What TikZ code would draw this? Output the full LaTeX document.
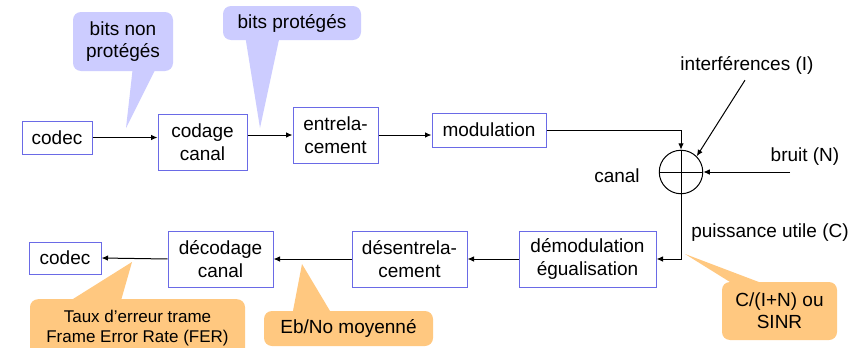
\documentclass[tikz,border=0pt]{standalone}
\usepackage{fontspec}
\setmainfont{Liberation Sans}
\usetikzlibrary{arrows.meta,backgrounds}

\definecolor{boxblue}{HTML}{6A6AE6}
\definecolor{lavender}{HTML}{CCCCFF}
\definecolor{apricot}{HTML}{FFC880}

\tikzset{
  blk/.style={draw=boxblue, line width=1pt, fill=white, align=center,
    inner sep=0pt, font=\fontsize{19}{22.5}\selectfont},
  lbl/.style={inner sep=0pt, align=center, font=\fontsize{19}{22}\selectfont},
  arr/.style={line width=1pt, -{Latex[length=6.5pt,width=5.5pt]}},
  bubble/.style={rounded corners=8pt, inner sep=0pt, align=center,
    font=\fontsize{19}{22}\selectfont},
  blue bubble/.style={bubble, fill=lavender},
  orange bubble/.style={bubble, fill=apricot},
}

\begin{document}
\begin{tikzpicture}[x=1pt, y=-1pt]
\clip (0,0) rectangle (868,348);
\fill[white] (0,0) rectangle (868,348);

% transmission chain
\node[blk, minimum width=70pt, minimum height=33pt] (codecA) at (57,137.5) {codec};
\node[blk, minimum width=89pt, minimum height=56pt] (codage) at (202.5,142) {codage\\canal};
\node[blk, minimum width=85pt, minimum height=56pt] (entrel) at (335.5,135) {entrela-\\cement};
\node[blk, minimum width=114pt, minimum height=34pt] (modul) at (489,130) {modulation};

% channel adder
\node[draw, circle, line width=1pt, minimum size=43.5pt, inner sep=0pt] (canal) at (681,172) {};
\draw[line width=1pt] (canal.north) -- (canal.south) (canal.west) -- (canal.east);
\node[lbl] (canallbl) at (617,176) {canal};
\node[lbl] (interf) at (747,65) {interférences (I)};
\node[lbl] (bruit) at (805,157) {bruit (N)};
\coordinate (bruitsrc) at (790,172);
\node[lbl] (puiss) at (770,233) {puissance utile (C)};

% reception chain
\node[blk, minimum width=137pt, minimum height=56pt] (demod) at (587.5,259) {démodulation\\égualisation};
\node[blk, minimum width=115pt, minimum height=56pt] (desent) at (409.5,259) {désentrela-\\cement};
\node[blk, minimum width=105pt, minimum height=56pt] (decod) at (220.5,259) {décodage\\canal};
\node[blk, minimum width=72pt, minimum height=32pt] (codecB) at (65,258) {codec};

% connectors
\draw[arr] (codecA.east) -- (codecA.east -| codage.west);
\draw[arr] (codage.east |- entrel) -- (entrel.west);
\draw[arr] (entrel.east) -- (entrel.east -| modul.west);
\draw[arr] (modul.east) -| (canal.north);
\draw[arr] (interf.south) ++(-2,6) -- (canal.north east);
\draw[arr] (bruitsrc) -- (canal.east);
\draw[arr] (canal.south) |- (demod.east);
\draw[arr] (demod.west) -- (desent.east);
\draw[arr] (desent.west) -- (decod.east);
\draw[arr] (decod.west) -- (codecB.east);

% callouts
\fill[lavender] (126,128) -- (133,66) -- (157,66) -- cycle;
\node[blue bubble, minimum width=100pt, minimum height=59pt] (nonprot) at (123,41.5) {bits non\\protégés};

\fill[lavender] (260,128) -- (245,35) -- (280,35) -- cycle;
\node[blue bubble, minimum width=138pt, minimum height=34pt] (prot) at (292,23) {bits protégés};

\fill[apricot] (132,262) -- (65,304) -- (120,304) -- cycle;
\node[orange bubble, minimum width=215pt, minimum height=57pt,
  font=\fontsize{17}{20}\selectfont, anchor=north] (fer) at (137.5,299) {Taux d’erreur trame\\Frame Error Rate (FER)};

\fill[apricot] (302,264) -- (292,316) -- (333,316) -- cycle;
\node[orange bubble, minimum width=169pt, minimum height=35pt] (ebno) at (348.5,328.5) {Eb/No moyenné};

\fill[apricot] (685,254) -- (738,287) -- (772,287) -- cycle;
\node[orange bubble, minimum width=115pt, minimum height=58pt] (sinr) at (779.5,311) {C/(I+N) ou\\SINR};
\end{tikzpicture}
\end{document}
